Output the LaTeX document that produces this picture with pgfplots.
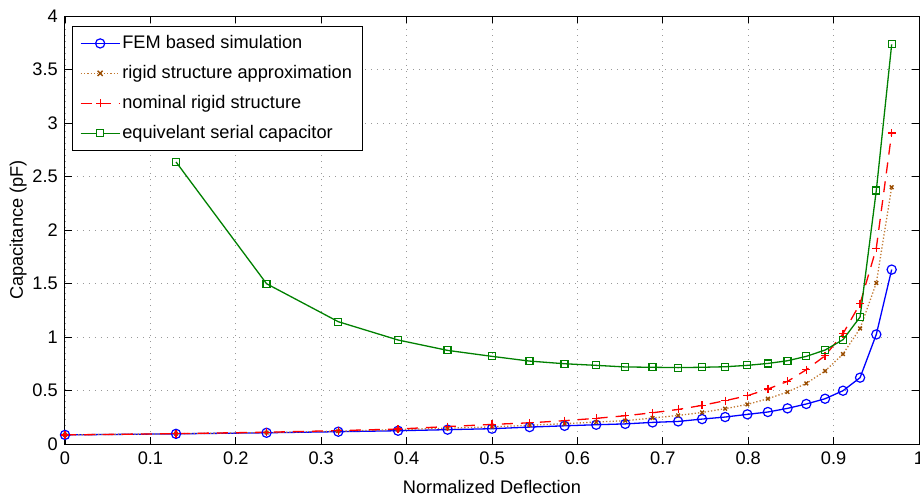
\documentclass[border=0pt]{standalone}
\usepackage{pgfplots}
\pgfplotsset{compat=1.18}
\usepackage{fontspec}
\setmainfont{Liberation Sans}

\colorlet{femblue}{blue}
\colorlet{rigidbrown}{orange!60!black}
\colorlet{rigidline}{orange!70!black!80}
\colorlet{serialgreen}{green!50!black}

\begin{document}
\fontsize{18.2}{22}\selectfont
\begin{tikzpicture}
\begin{axis}[
    name=ax,
    scale only axis,
    width=854pt, height=428pt,
    xmin=0, xmax=1, ymin=0, ymax=4,
    xtick={0,0.1,...,1}, ytick={0,0.5,...,4},
    tick align=inside,
    major tick length=7pt,
    tick style={black, line width=0.8pt},
    axis line style={line width=1pt},
    grid=major,
    major grid style={dash pattern=on 1pt off 5pt, gray!80, line width=0.9pt},
    /pgf/number format/assume math mode=true,
    ticklabel style={font=\fontsize{18.2}{22}\selectfont},
    xticklabel style={yshift=-2pt},
    yticklabel style={xshift=-1pt},
    xlabel={Normalized Deflection},
    ylabel={Capacitance (pF)},
    xlabel style={at={(axis description cs:0.5,0)}, anchor=north, yshift=-30pt},
    ylabel style={at={(axis description cs:0,0.5)}, anchor=south, yshift=32pt},
    legend style={at={(axis description cs:0.008,0.976)}, anchor=north west,
        fill=white, font=\fontsize{18.2}{22}\selectfont,
        row sep=10pt, inner xsep=8pt, inner ysep=7pt},
    legend cell align=left,
]
% legend samples, each drawn with its own colours
\addlegendimage{legend image code/.code={
    \path[draw=femblue, line width=1.3pt] (0pt,0pt) -- (39pt,0pt);
    \path[draw=femblue, line width=1.2pt] (19.5pt,0pt) circle[radius=4.6pt];}}
\addlegendimage{legend image code/.code={
    \path[draw=rigidline, line width=1.3pt, dotted] (0pt,0pt) -- (39pt,0pt);
    \path[draw=rigidbrown, line width=1.4pt] (17pt,-2.6pt) -- (22pt,2.6pt)
        (17pt,2.6pt) -- (22pt,-2.6pt);}}
\addlegendimage{legend image code/.code={
    \path[draw=red, line width=1.3pt, dash pattern=on 11pt off 8pt] (0pt,0pt) -- (39pt,0pt);
    \path[draw=red, line width=1.3pt] (15.5pt,0pt) -- (23.5pt,0pt)
        (19.5pt,-4pt) -- (19.5pt,4pt);}}
\addlegendimage{legend image code/.code={
    \path[draw=serialgreen, line width=1.3pt] (0pt,0pt) -- (39pt,0pt);
    \path[draw=serialgreen, fill=white, line width=1.2pt] (16pt,-3.5pt) rectangle (23pt,3.5pt);}}

\addplot[forget plot, color=femblue, line width=1.3pt, mark=o, mark size=4.6pt,
    mark options={solid, line width=1.2pt}] coordinates {
    (0,0.085) (0.13,0.095) (0.236,0.105) (0.32,0.115) (0.39,0.124)
    (0.448,0.134) (0.5,0.143) (0.544,0.158) (0.585,0.170) (0.622,0.180)
    (0.656,0.188) (0.688,0.202) (0.718,0.211) (0.746,0.233) (0.773,0.252)
    (0.799,0.277) (0.823,0.299) (0.846,0.333) (0.868,0.374) (0.89,0.423)
    (0.911,0.498) (0.931,0.620) (0.95,1.024) (0.968,1.630)
};
\addplot[forget plot, color=rigidline, line width=1.3pt, dotted, mark=x, mark size=2.6pt,
    mark options={solid, rigidbrown, line width=1.4pt}] coordinates {
    (0,0.085) (0.13,0.096) (0.236,0.107) (0.32,0.120) (0.39,0.135)
    (0.448,0.148) (0.5,0.160) (0.544,0.175) (0.585,0.190) (0.622,0.205)
    (0.656,0.218) (0.688,0.243) (0.718,0.267) (0.746,0.295) (0.773,0.330)
    (0.799,0.370) (0.823,0.423) (0.846,0.486) (0.868,0.566) (0.89,0.682)
    (0.911,0.841) (0.931,1.080) (0.95,1.505) (0.968,2.400)
};
\addplot[forget plot, color=red, line width=1.3pt, dash pattern=on 11pt off 8pt,
    mark=+, mark size=4pt, mark options={solid, line width=1.3pt}] coordinates {
    (0,0.085) (0.13,0.097) (0.236,0.110) (0.32,0.125) (0.39,0.140)
    (0.448,0.163) (0.5,0.183) (0.544,0.198) (0.585,0.218) (0.622,0.240)
    (0.656,0.264) (0.688,0.292) (0.718,0.323) (0.746,0.361) (0.773,0.405)
    (0.799,0.451) (0.823,0.514) (0.846,0.585) (0.868,0.694) (0.89,0.825)
    (0.911,1.031) (0.931,1.311) (0.95,1.830) (0.968,2.906)
};
\addplot[forget plot, color=serialgreen, line width=1.3pt, mark=square, mark size=3.5pt,
    mark options={solid, line width=1.2pt}] coordinates {
    (0.13,2.636) (0.236,1.498) (0.32,1.143) (0.39,0.972)
    (0.448,0.875) (0.5,0.819) (0.544,0.775) (0.585,0.750) (0.622,0.735)
    (0.656,0.720) (0.688,0.717) (0.718,0.714) (0.746,0.717) (0.773,0.722)
    (0.799,0.735) (0.823,0.753) (0.846,0.778) (0.868,0.819) (0.89,0.878)
    (0.911,0.975) (0.931,1.187) (0.95,2.370) (0.968,3.735)
};
\legend{FEM based simulation, rigid structure approximation,
    nominal rigid structure, equivelant serial capacitor}
\end{axis}
\pgfresetboundingbox
\path[use as bounding box] (ax.south west) ++(-65pt,-57pt) rectangle ++(920pt,501pt);
\end{tikzpicture}
\end{document}
